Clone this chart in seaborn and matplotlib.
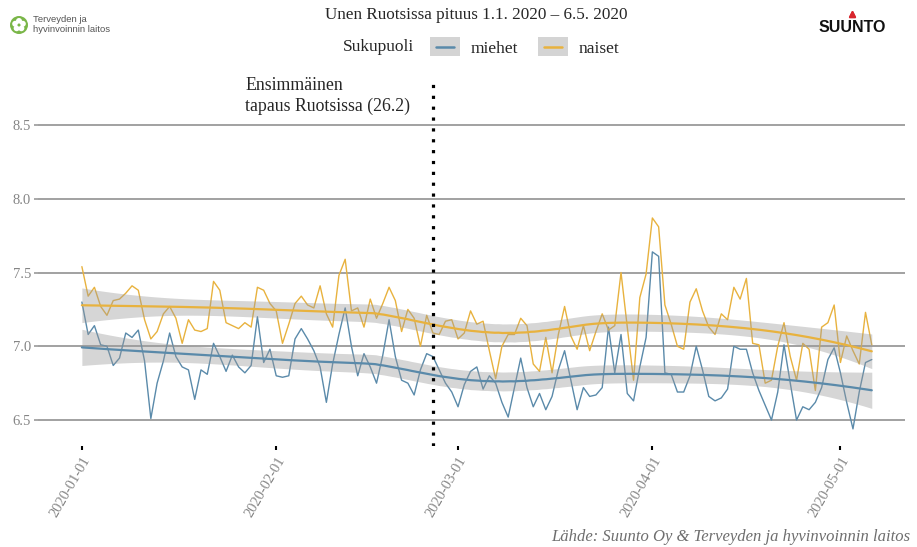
import numpy as np
import pandas as pd
import matplotlib
matplotlib.use("Agg")
import matplotlib.pyplot as plt
import matplotlib.dates as mdates
import seaborn as sns
from matplotlib.patches import Rectangle, Ellipse
from matplotlib.lines import Line2D
from matplotlib.legend_handler import HandlerBase

# ---------------- data ----------------
start_date = "2020-01-01"
end_date = "2020-05-06"
case_date = "2020-02-26"
series_names = ["miehet", "naiset"]
series_colors = ["#5a8aaa", "#e8b23e"]

miehet = [7.30, 7.08, 7.14, 7.01, 7.00, 6.87, 6.92, 7.09, 7.06, 7.11,
          6.90, 6.51, 6.75, 6.90, 7.09, 6.93, 6.86, 6.84, 6.64, 6.84,
          6.81, 7.02, 6.93, 6.83, 6.94, 6.86, 6.82, 6.87, 7.20, 6.89,
          6.98, 6.80, 6.79, 6.80, 7.05, 7.12, 7.05, 6.97, 6.86, 6.62,
          6.88, 7.08, 7.26, 7.00, 6.80, 6.95, 6.86, 6.75, 6.94, 7.18,
          6.93, 6.77, 6.75, 6.67, 6.84, 6.95, 6.93, 6.84, 6.75, 6.69,
          6.59, 6.74, 6.83, 6.86, 6.71, 6.80, 6.75, 6.62, 6.52, 6.72,
          6.92, 6.72, 6.59, 6.68, 6.57, 6.66, 6.84, 6.97, 6.77, 6.57,
          6.72, 6.66, 6.67, 6.72, 7.13, 6.82, 7.08, 6.68, 6.63, 6.86,
          7.06, 7.64, 7.61, 6.82, 6.81, 6.69, 6.69, 6.80, 7.00, 6.84,
          6.66, 6.63, 6.65, 6.71, 7.00, 6.98, 6.98, 6.82, 6.70, 6.60,
          6.50, 6.69, 7.01, 6.75, 6.50, 6.59, 6.57, 6.62, 6.72, 6.91,
          6.99, 6.82, 6.62, 6.44, 6.69, 6.89, 6.91]

naiset = [7.54, 7.34, 7.40, 7.27, 7.21, 7.31, 7.32, 7.36, 7.41, 7.38,
          7.18, 7.05, 7.10, 7.22, 7.27, 7.19, 7.02, 7.18, 7.11, 7.10,
          7.12, 7.44, 7.38, 7.16, 7.14, 7.12, 7.16, 7.13, 7.40, 7.38,
          7.29, 7.24, 7.02, 7.15, 7.29, 7.34, 7.28, 7.26, 7.41, 7.22,
          7.13, 7.48, 7.59, 7.24, 7.26, 7.13, 7.32, 7.19, 7.29, 7.40,
          7.31, 7.10, 7.25, 7.19, 7.00, 7.21, 7.09, 7.08, 7.17, 7.18,
          7.05, 7.09, 7.24, 7.15, 7.17, 6.97, 6.78, 7.00, 7.08, 7.08,
          7.19, 7.14, 6.88, 6.83, 7.06, 6.82, 7.08, 7.27, 7.07, 6.98,
          7.14, 6.97, 7.10, 7.22, 7.11, 7.14, 7.50, 7.13, 6.77, 7.33,
          7.49, 7.87, 7.81, 7.28, 7.15, 7.00, 6.98, 7.30, 7.39, 7.24,
          7.13, 7.08, 7.22, 7.18, 7.40, 7.32, 7.46, 7.02, 7.01, 6.75,
          6.77, 7.00, 7.16, 6.93, 6.77, 7.02, 6.98, 6.70, 7.13, 7.16,
          7.28, 6.89, 7.07, 6.97, 6.88, 7.23, 7.01]

x_tick_labels = ["2020-01-01", "2020-02-01", "2020-03-01", "2020-04-01", "2020-05-01"]
y_ticks = [6.5, 7.0, 7.5, 8.0, 8.5]

title = "Unen Ruotsissa pituus 1.1. 2020 \u2013 6.5. 2020"
legend_title = "Sukupuoli"
annotation = "Ensimmäinen\ntapaus Ruotsissa (26.2)"
source = "Lähde: Suunto Oy & Terveyden ja hyvinvoinnin laitos"

dates = pd.date_range(start_date, end_date, freq="D")
df = pd.DataFrame({
    "date": np.concatenate([dates, dates]),
    "value": np.concatenate([miehet, naiset]),
    "Sukupuoli": [series_names[0]] * len(dates) + [series_names[1]] * len(dates),
})


# ---------------- loess (degree 2, span 0.75) with 95% CI ----------------
def loess(x, y, xs, span=0.75):
    n = len(x)
    q = int(np.floor(span * n))

    def row(x0):
        d = np.abs(x - x0)
        h = np.sort(d)[q - 1]
        w = np.clip(1 - (d / h) ** 3, 0, None) ** 3
        X = np.column_stack([np.ones(n), x - x0, (x - x0) ** 2])
        W = w[:, None] * X
        A = X.T @ W
        return np.linalg.solve(A, W.T)[0]

    L_obs = np.array([row(v) for v in x])
    L_new = np.array([row(v) for v in xs])
    res = y - L_obs @ y
    IL = np.eye(n) - L_obs
    M = IL.T @ IL
    d1 = np.trace(M)
    sigma = np.sqrt(res @ res / d1)
    fit = L_new @ y
    se = sigma * np.sqrt((L_new ** 2).sum(axis=1))
    return fit, se


# ---------------- figure ----------------
W, H = 917, 547
sns.set_style("white")
plt.rcParams["font.family"] = ["Liberation Serif", "DejaVu Serif"]

fig = plt.figure(figsize=(W / 100, H / 100), dpi=100)
px_l, px_r, px_t, px_b = 38, 905, 83, 446
ax = fig.add_axes([px_l / W, 1 - px_b / H, (px_r - px_l) / W, (px_b - px_t) / H])

palette = dict(zip(series_names, series_colors))
sns.lineplot(data=df, x="date", y="value", hue="Sukupuoli", palette=palette,
             lw=1.0, legend=False, ax=ax, zorder=3)

xnum = np.arange(len(dates), dtype=float)
xs = np.linspace(0, len(dates) - 1, 200)
grid_dates = pd.Timestamp(start_date) + pd.to_timedelta(xs, unit="D")
for name, vals in zip(series_names, [miehet, naiset]):
    fit, se = loess(xnum, np.asarray(vals, dtype=float), xs)
    ax.fill_between(grid_dates, fit - 1.98 * se, fit + 1.98 * se,
                    color="#999999", alpha=0.4, lw=0, zorder=4)
    ax.plot(grid_dates, fit, color=palette[name], lw=1.6, zorder=5)

ax.axvline(pd.Timestamp(case_date), color="black", lw=2.3,
           linestyle=(0, (1, 2.4)), dash_capstyle="butt", zorder=6)

ax.set_xlim(pd.Timestamp(start_date) - pd.Timedelta(days=7.0),
            pd.Timestamp(start_date) + pd.Timedelta(days=131.3))
ax.set_ylim(6.324, 8.785)
ax.set_yticks(y_ticks)
ax.set_yticklabels([f"{v:.1f}" for v in y_ticks])
ax.set_xticks([pd.Timestamp(s) for s in x_tick_labels])
ax.set_xticklabels(x_tick_labels)
ax.set_xlabel("")
ax.set_ylabel("")
for s in ax.spines.values():
    s.set_visible(False)
ax.yaxis.grid(True, color="#9a9a9a", lw=1.3)
ax.xaxis.grid(False)
ax.set_axisbelow(True)
ax.tick_params(axis="y", length=3, width=1.2, color="#9a9a9a",
               labelcolor="#858585", labelsize=10.5, pad=2, left=True)
ax.tick_params(axis="x", length=3, width=1.5, color="black",
               labelcolor="#858585", labelsize=10.5, pad=3, bottom=True)
for lab in ax.get_xticklabels():
    lab.set_rotation(60)
    lab.set_ha("right")
    lab.set_va("top")
    lab.set_rotation_mode("anchor")


def fx(p):
    return p / W


def fy(p):
    return 1 - p / H


# title
fig.text(fx(476), fy(15), title, ha="center", va="center", fontsize=12.3)

# legend
class KeyHandler(HandlerBase):
    def create_artists(self, legend, orig_handle, xdescent, ydescent,
                       width, height, fontsize, trans):
        r = Rectangle((-xdescent, -ydescent), width, height,
                      facecolor="#d4d4d4", edgecolor="none", transform=trans)
        yc = -ydescent + height / 2
        ln = Line2D([-xdescent + width * 0.2, -xdescent + width * 0.8], [yc, yc],
                    color=orig_handle.get_color(), lw=1.8, transform=trans)
        return [r, ln]


handles = [Line2D([], [], color=c) for c in series_colors]
fig.text(fx(343), fy(47), legend_title, ha="left", va="center", fontsize=12.5)
fig.legend(handles, series_names, loc="center left",
           bbox_to_anchor=(fx(430), fy(47)), bbox_transform=fig.transFigure,
           ncol=2, frameon=False, fontsize=12.5, borderpad=0, borderaxespad=0,
           handlelength=1.72, handleheight=1.32, handletextpad=0.63,
           columnspacing=1.15, handler_map={Line2D: KeyHandler()})

# annotation
fig.text(fx(245), fy(96), annotation, ha="left", va="center", fontsize=12.8,
         linespacing=1.3)

# source
fig.text(fx(910), fy(537), source, ha="right", va="center", fontsize=12,
         style="italic", color="#6e6e6e")

# THL logo
fig.add_artist(Ellipse((fx(19), fy(25)), 18 / W, 18 / H, transform=fig.transFigure,
                       facecolor="#7ab648", edgecolor="none"))
for ang in np.deg2rad([90, 162, 234, 306, 18]):
    fig.add_artist(Ellipse((fx(19 + 4 * np.cos(ang)), fy(25 - 4 * np.sin(ang))),
                           6 / W, 6 / H, transform=fig.transFigure,
                           facecolor="white", edgecolor="none"))
fig.add_artist(Ellipse((fx(19), fy(25)), 3 / W, 3 / H, transform=fig.transFigure,
                       facecolor="#7ab648", edgecolor="none"))
fig.text(fx(33), fy(19.5), "Terveyden ja", ha="left", va="center", fontsize=6.8,
         color="#555555", family="Liberation Sans")
fig.text(fx(33), fy(29), "hyvinvoinnin laitos", ha="left", va="center", fontsize=6.8,
         color="#555555", family="Liberation Sans")

# SUUNTO logo
fig.add_artist(Line2D([fx(852)], [fy(13.5)], marker="^", ms=4.5, color="#d8262e",
                      transform=fig.transFigure, lw=0))
fig.add_artist(Line2D([fx(852)], [fy(13.5)], marker="^", ms=4.5, color="#d8262e",
                      transform=fig.transFigure, lw=0))
fig.text(fx(852), fy(28), "SUUNTO", ha="center", va="center", fontsize=11.5,
         fontweight="bold", color="#111111", family="Liberation Sans")

fig.savefig("out.png", dpi=100, facecolor="white")
